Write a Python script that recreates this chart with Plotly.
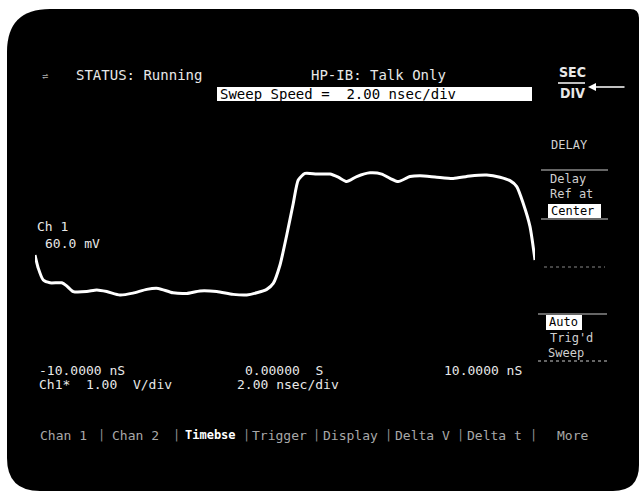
import plotly.graph_objects as go

# Waveform (Ch 1) : time in ns, amplitude in V (1.00 V/div, 2.00 ns/div)
time_ns = [-10.0, -9.87, -9.67, -9.4, -8.93, -8.73, -8.47, -7.93, -7.53, -7.13, -6.6, -6.08,
           -5.53, -5.07, -4.48, -3.93, -3.4, -2.73, -2.08, -1.53, -1.13, -0.73, -0.47, -0.2,
           0.07, 0.33, 0.53, 0.8, 1.27, 1.8, 2.13, 2.47, 2.87, 3.4, 3.87, 4.2, 4.53, 5.0,
           5.4, 6.07, 6.73, 7.4, 8.07, 8.6, 9.0, 9.27, 9.53, 9.8, 10.0]
volts = [-1.12, -1.54, -1.92, -2.01, -2.01, -2.11, -2.29, -2.29, -2.24, -2.29, -2.40, -2.34,
         -2.22, -2.19, -2.33, -2.35, -2.27, -2.29, -2.38, -2.40, -2.33, -2.22, -2.03, -1.44,
         -0.48, 0.53, 1.28, 1.49, 1.47, 1.47, 1.37, 1.23, 1.39, 1.51, 1.47, 1.33, 1.23, 1.39,
         1.42, 1.37, 1.33, 1.41, 1.44, 1.37, 1.26, 1.07, 0.53, -0.21, -1.28]

time_labels = ["-10.0000 nS", "0.00000  S", "10.0000 nS"]
softkeys = ["Chan 1", "Chan 2", "Timebse", "Trigger", "Display", "Delta V", "Delta t", "More"]

W, H = 639, 491
MONO = "DejaVu Sans Mono"
FG = "#e8e8e8"
DIM = "#b0b0b0"

fig = go.Figure()
fig.add_trace(go.Scatter(x=time_ns, y=volts, mode="lines", xaxis="x2", yaxis="y2",
                         line=dict(color="white", width=3, shape="spline", smoothing=0.6),
                         hoverinfo="skip", showlegend=False))

shapes = [
    dict(type="path", xref="x", yref="y", layer="below",
         path="M 7,52 Q 7,9 50,9 L 630,9 Q 639,9 639,18 L 639,465 Q 639,491 613,491 "
              "L 40,491 Q 7,491 7,458 Z",
         fillcolor="black", line=dict(width=0)),
    # Sweep speed box
    dict(type="rect", xref="x", yref="y", x0=217, x1=532, y0=87, y1=101,
         fillcolor="white", line=dict(width=0), layer="below"),
    # SEC/DIV bar
    dict(type="line", xref="x", yref="y", x0=558, x1=585, y0=83, y1=83, line=dict(color="white", width=1.5)),
    # right menu separators
    dict(type="line", xref="x", yref="y", x0=541, x1=608, y0=170, y1=170, line=dict(color="#cccccc", width=1)),
    dict(type="rect", xref="x", yref="y", x0=548, x1=601, y0=204, y1=218,
         fillcolor="white", line=dict(width=0), layer="below"),
    dict(type="line", xref="x", yref="y", x0=541, x1=608, y0=219, y1=219, line=dict(color="#cccccc", width=1)),
    dict(type="line", xref="x", yref="y", x0=544, x1=605, y0=267, y1=267, line=dict(color="#888888", width=1, dash="dot")),
    dict(type="line", xref="x", yref="y", x0=538, x1=607, y0=314, y1=314, line=dict(color="#cccccc", width=1)),
    dict(type="rect", xref="x", yref="y", x0=546, x1=582, y0=315, y1=330,
         fillcolor="white", line=dict(width=0), layer="below"),
    dict(type="line", xref="x", yref="y", x0=538, x1=607, y0=361, y1=361, line=dict(color="#cccccc", width=1, dash="dot")),
]

def txt(x, y, s, color=FG, size=13, family=MONO, anchor="left", bold=False):
    return dict(x=x, y=y, xref="x", yref="y", text=("<b>%s</b>" % s) if bold else s,
                showarrow=False, xanchor=anchor, yanchor="middle",
                font=dict(family=family, size=size, color=color))

ann = [
    txt(40, 75, "⇌", color=DIM, size=10),
    txt(74, 75, "STATUS: Running", size=14),
    txt(309, 75, "HP-IB: Talk Only", size=14),
    txt(218, 94, "Sweep Speed =  2.00 nsec/div", color="black", size=14),
    txt(572, 72, "SEC", size=14, family="DejaVu Sans Condensed", anchor="center", bold=True),
    txt(572, 93, "DIV", size=14, family="DejaVu Sans Condensed", anchor="center", bold=True),
    dict(x=588, y=87, xref="x", yref="y", ax=626, ay=87, axref="x", ayref="y", text="",
         showarrow=True, arrowhead=2, arrowsize=1, arrowwidth=1.6, arrowcolor="white"),
    txt(549, 145, "DELAY", color="#cfcfcf", size=12),
    txt(548, 179, "Delay", color="#cfcfcf", size=12),
    txt(548, 194, "Ref at", color="#cfcfcf", size=12),
    txt(549, 211, "Center", color="black", size=12),
    txt(547, 322, "Auto", color="black", size=12),
    txt(548, 338, "Trig'd", color="#cfcfcf", size=12),
    txt(546, 353, "Sweep", color="#cfcfcf", size=12),
    txt(35, 226, "Ch 1", size=13),
    txt(43, 243, "60.0 mV", size=13),
    txt(37, 370, time_labels[0], size=13),
    txt(243, 370, time_labels[1], size=13),
    txt(442, 370, time_labels[2], size=13),
    txt(37, 384, "Ch1*  1.00  V/div", size=13),
    txt(235, 384, "2.00 nsec/div", size=13),
]

key_x = [38, 110, 183, 250, 321, 393, 465, 555]
for k, xk in zip(softkeys, key_x):
    bold = (k == "Timebse")
    ann.append(txt(xk, 435, k, color="white" if bold else "#a8a8a8", size=12 if bold else 13, bold=bold))
for xs in [101, 176, 246, 316, 388, 460, 533]:
    ann.append(txt(xs, 435, "|", color="#909090", size=12, anchor="center"))

fig.update_layout(
    width=W, height=H, margin=dict(l=0, r=0, t=0, b=0),
    paper_bgcolor="white", plot_bgcolor="rgba(0,0,0,0)",
    xaxis=dict(range=[0, W], domain=[0, 1], visible=False, fixedrange=True),
    yaxis=dict(range=[H, 0], domain=[0, 1], visible=False, fixedrange=True),
    xaxis2=dict(range=[-10, 10], domain=[35 / W, 535 / W], anchor="y2", visible=False),
    yaxis2=dict(range=[-4, 4], domain=[(H - 345) / H, (H - 95) / H], anchor="x2", visible=False),
    shapes=shapes, annotations=ann, showlegend=False,
)

fig.write_html("out.html", config={"displayModeBar": False},
               post_script="document.body.style.margin='0';document.body.style.overflow='hidden';")
